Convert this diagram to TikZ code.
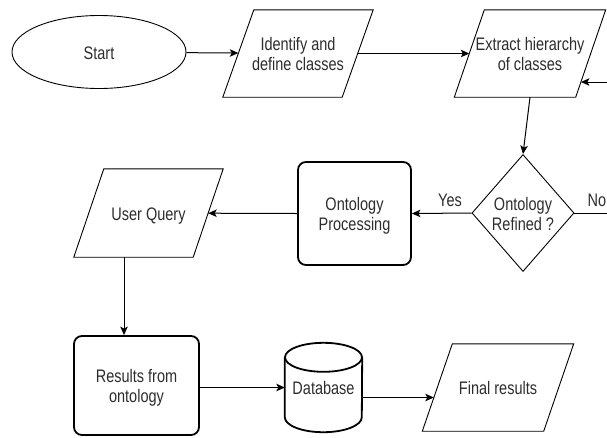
\documentclass[tikz,border=0pt]{standalone}
\usepackage{fontspec}
\usepackage{graphicx}
\setmainfont{Liberation Sans}
\usetikzlibrary{shapes.geometric,arrows.meta,calc}
\newcommand\txt[1]{\raisebox{-3pt}[\height][\depth]{\scalebox{1}[1.25]{\begin{tabular}{@{}c@{}}#1\end{tabular}}}}
\newcommand\paraoutline[2]{\draw[line width=0.9pt] ($(#1.north west)+(#2,0)$) -- ($(#1.north east)+(#2,0)$) -- ($(#1.south east)+(-#2,0)$) -- ($(#1.south west)+(-#2,0)$) -- cycle;}
\definecolor{txtgray}{RGB}{45,45,45}
\begin{document}
\begin{tikzpicture}[x=1pt,y=1pt,
  every node/.style={font=\fontsize{14.5}{16}\selectfont, text=txtgray, inner sep=0pt},
  conn/.style={line width=1pt, -{Stealth[length=8.5pt,width=7.5pt,inset=2pt]}},
  plain/.style={line width=1pt},
  startbox/.style={ellipse, draw, line width=0.9pt, minimum width=174pt, minimum height=73pt},
  iobox/.style={rectangle, minimum width=119pt, minimum height=87pt},
  procbox/.style={rectangle, rounded corners=8pt, draw, line width=1.8pt},
  decbox/.style={diamond, draw, line width=0.9pt, minimum width=100pt, minimum height=117pt},
  lbl/.style={font=\fontsize{14.5}{16}\selectfont}
]
\useasboundingbox (0,0) rectangle (607,-437);

\node[startbox] (start) at (99,-52) {\txt{Start}};
\node[iobox] (ident) at (298,-53.5) {\txt{Identify and\\define classes}};
\node[iobox, minimum width=121pt] (extr) at (530,-53.5) {\txt{Extract hierarchy\\of classes}};
\node[decbox] (dec) at (523,-213) {\txt{Ontology\\Refined ?}};
\node[procbox, minimum width=113pt, minimum height=103pt] (proc) at (354.5,-213.5) {\txt{Ontology\\Processing}};
\node[iobox, minimum width=119pt, minimum height=88pt] (uq) at (148.5,-213) {\txt{User Query}};
\node[procbox, minimum width=125pt, minimum height=99pt] (res) at (136.5,-385.5) {\txt{Results from\\ontology}};
\node[minimum width=77pt, minimum height=89pt] (db) at (323.5,-387.5) {\txt{Database}};
\node[iobox, minimum width=121pt] (fin) at (498,-387.5) {\txt{Final results}};

% parallelogram outlines
\paraoutline{ident}{15.5}
\paraoutline{extr}{15}
\paraoutline{uq}{15}
\paraoutline{fin}{15}

% database cylinder outline
\draw[line width=1.8pt]
  ($(db.north west)+(0,-14.5)$) -- ($(db.south west)+(0,15)$)
  arc[start angle=180, end angle=360, x radius=38.5pt, y radius=15pt]
  -- ($(db.north east)+(0,-14.5)$);
\draw[line width=1.8pt] ($(db.north)+(0,-14.5)$) ellipse [x radius=38.5pt, y radius=14.5pt];

% connectors
\draw[conn] (start) -- (ident);
\draw[conn] (ident) -- (extr);
\coordinate (inR) at (620,-82);
\coordinate (inT) at ($(extr.east)+(-9.8,-28.5)$);
\draw[conn] (inR) -- (inT);
\draw[conn] (extr.south) -- (dec.north);
\draw[conn] (dec.west) -- (proc.east);
\node[lbl] (yeslbl) at (450,-199) {\txt{Yes}};
\coordinate (noEnd) at (620,-213);
\draw[plain] (dec.east) -- (noEnd);
\node[lbl] (nolbl) at (597,-199) {\txt{No}};
\draw[conn] (proc.west) -- (uq);
\coordinate (uqb) at ($(uq.south)+(-24.5,0)$);
\draw[conn] (uqb) -- (uqb |- res.north);
\draw[conn] (db.west -| res.east) -- (db.west);
\coordinate (dbo) at ($(db.east)+(0,-10)$);
\coordinate (fino) at ($(dbo -| fin.west)+(-3.5,0)$);
\draw[conn] (dbo) -- (fino);
\end{tikzpicture}
\end{document}
